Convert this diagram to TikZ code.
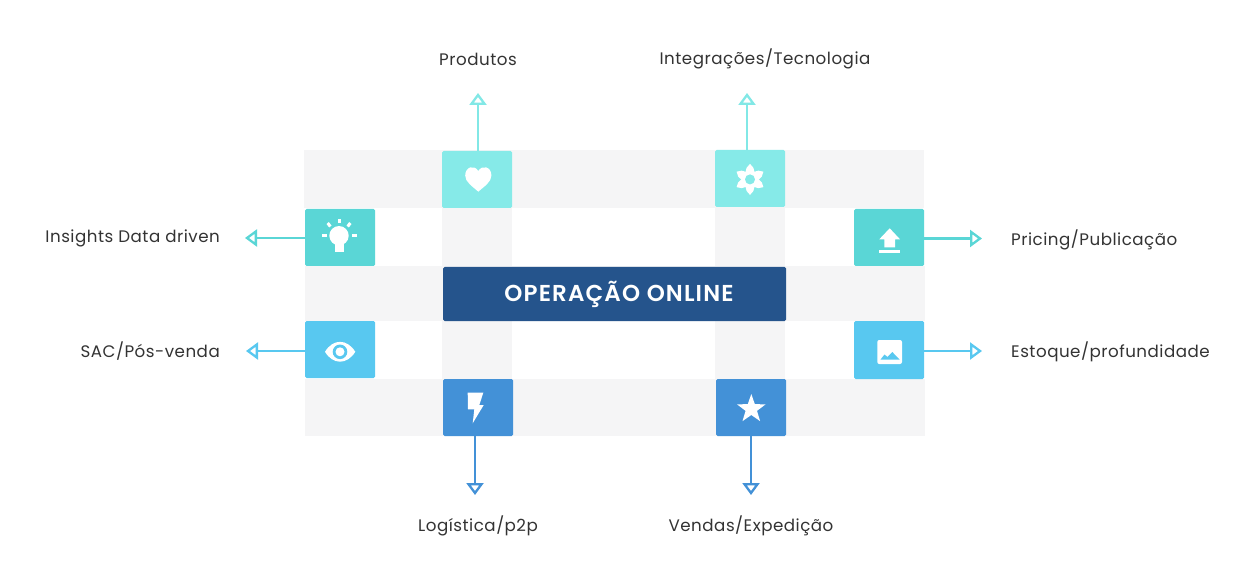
\documentclass[tikz,border=0pt]{standalone}
\usepackage{fontspec}
\setmainfont{Poppins}[LetterSpace=3]
\newfontfamily\titlefont{Poppins SemiBold}[LetterSpace=5]
\usetikzlibrary{arrows.meta,shapes.geometric}
\definecolor{cgrey}{HTML}{F5F5F6}
\definecolor{cmint}{HTML}{86EAE8}
\definecolor{cteal}{HTML}{5AD6D6}
\definecolor{csky}{HTML}{58C8F0}
\definecolor{cblue}{HTML}{4391D7}
\definecolor{cnavy}{HTML}{25548C}
\definecolor{ctext}{HTML}{333333}
\tikzset{
  x=1pt,y=-1pt,
  tile/.style={fill=#1,rounded corners=1.5pt},
  band/.style={fill=cgrey},
  link/.style={draw=#1,line width=2.3pt,-{Triangle[open,length=12pt,width=17pt,line width=2.3pt]}},
  lab/.style={text=ctext,font=\fontsize{16.7}{20}\selectfont,inner sep=0pt},
  ico/.style={fill=white},
}
\begin{document}
\begin{tikzpicture}
\useasboundingbox (0,0) rectangle (1251,564);
\fill[white] (0,0) rectangle (1251,564);
% bands
\fill[band] (304,150) rectangle (924,208);
\fill[band] (305,266) rectangle (925,321);
\fill[band] (305,379) rectangle (925,436);
\fill[band] (442,208) rectangle (512,379);
\fill[band] (715,208) rectangle (785,379);
% tiles as nodes
\def\tile#1#2#3#4#5#6{\path[tile=#2] (#3,#4) rectangle (#5,#6) node[midway,inner sep=0pt,minimum width=#5pt-#3pt,minimum height=#6pt-#4pt] (#1) {};}
\tile{heart}{cmint}{442}{151}{512}{208}
\tile{flower}{cmint}{715}{150}{785}{207}
\tile{bulb}{cteal}{305}{209}{375}{266}
\tile{upl}{cteal}{854}{209}{924}{266}
\tile{eye}{csky}{305}{321}{375}{378}
\tile{img}{csky}{854}{321}{924}{379}
\tile{bolt}{cblue}{443}{379}{513}{436}
\tile{star}{cblue}{716}{379}{786}{436}
\path[tile=cnavy] (443,267) rectangle (786,321);
\node[inner sep=0pt,text=white,font=\titlefont\fontsize{23}{27}\selectfont] (main) at (619,294.5) {OPERAÇÃO ONLINE};
% free ends
\coordinate (tA) at (478,93);
\coordinate (tB) at (747,93);
\coordinate (tC) at (245,238);
\coordinate (tD) at (982,238.5);
\coordinate (tE) at (246,351);
\coordinate (tF) at (982,351);
\coordinate (tG) at (475,495);
\coordinate (tH) at (751,495);
\draw[link=cmint!90!cteal] (tA |- heart.north) -- (tA);
\draw[link=cmint!90!cteal] (tB |- flower.north) -- (tB);
\draw[link=cteal] (bulb.west |- tC) -- (tC);
\draw[link=cteal] (upl.east |- tD) -- (tD);
\draw[link=csky] (eye.west |- tE) -- (tE);
\draw[link=csky] (img.east |- tF) -- (tF);
\draw[link=cblue] (tG |- bolt.south) -- (tG);
\draw[link=cblue] (tH |- star.south) -- (tH);
% labels
\node[lab] (l1) at (478,59) {Produtos};
\node[lab] (l2) at (765,59) {Integrações/Tecnologia};
\node[lab,anchor=east] (l3) at (220,238.7) {Insights Data driven};
\node[lab,anchor=east] (l4) at (220,351.5) {SAC/Pós-venda};
\node[lab,anchor=west] (l5) at (1011,239.5) {Pricing/Publicação};
\node[lab,anchor=west] (l6) at (1011,351.5) {Estoque/profundidade};
\node[lab] (l7) at (478,526) {Logística/p2p};
\node[lab] (l8) at (751,526) {Vendas/Expedição};
% heart
\fill[ico] (478.3,191.7) .. controls (472,186) and (465.2,182) .. (465.2,175.5) .. controls (465.2,166.5) and (474.5,164.5) .. (478.3,171) .. controls (482,164.5) and (491.4,166.5) .. (491.4,175.5) .. controls (491.4,182) and (484.6,186) .. (478.3,191.7) -- cycle;
% flower
\begin{scope}[shift={(750,179.4)}]
\foreach \a in {0,60,120,180,240,300}
  \fill[ico,rotate=\a] (0,-15.5) .. controls (2.5,-13) and (5,-10.5) .. (4.6,-7) -- (0,0) -- (-4.6,-7) .. controls (-5,-10.5) and (-2.5,-13) .. (0,-15.5) -- cycle;
\fill[ico] (0,0) circle (7.3);
\fill[cmint] (0,0) circle (5);
\end{scope}
% bulb
\fill[ico] (339,235.7) circle (9.7);
\fill[ico] (335,240) rectangle (344,252);
\fill[ico] (337.7,219) rectangle (340.7,223.5);
\fill[ico] (322,234.5) rectangle (327,237.5);
\fill[ico] (352,234.5) rectangle (357,237.5);
\fill[ico] (326.5,224) -- (328.8,222) -- (331.5,225.5) -- (329.2,227.5) -- cycle;
\fill[ico] (351.5,224) -- (349.2,222) -- (346.5,225.5) -- (348.8,227.5) -- cycle;
% upload
\fill[ico] (889.7,228.3) -- (900,239.3) -- (895,239.3) -- (895,247.3) -- (884.3,247.3) -- (884.3,239.3) -- (879.3,239.3) -- cycle;
\fill[ico] (879,250) rectangle (900,253.3);
% eye
\fill[ico] (325,351.8) .. controls (333,338.5) and (347,338.5) .. (355.3,351.8) .. controls (347,365) and (333,365) .. (325,351.8) -- cycle;
\fill[csky] (340,351.8) circle (7.3);
\fill[ico] (340,351.8) circle (4.5);
% image
\fill[ico,rounded corners=2pt] (877.3,340) rectangle (902,364);
\fill[csky] (880.5,359.5) -- (884.5,354.5) -- (887.5,357) -- (892.3,352) -- (899.5,359.5) -- cycle;
% bolt
\fill[ico] (467.7,392.7) -- (483.3,392.7) -- (479.3,405) -- (483.7,405) -- (472.7,423.3) -- (474.3,409.3) -- (468,409.3) -- cycle;
% star
\node[star,star points=5,star point ratio=2.5,fill=white,inner sep=0pt,minimum size=30pt] (st) at (751.3,409) {};
\end{tikzpicture}
\end{document}
